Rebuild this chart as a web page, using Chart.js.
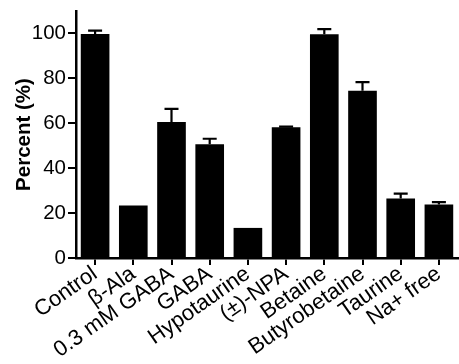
<!DOCTYPE html>
<html>
<head>
<meta charset="utf-8">
<script src="https://cdn.jsdelivr.net/npm/chart.js@4.4.0/dist/chart.umd.min.js"></script>
<style>
  html, body { margin: 0; padding: 0; background: #fff; }
  #wrap { width: 459px; height: 364px; position: relative; }
</style>
</head>
<body>
<div id="wrap"><canvas id="c" width="459" height="364"></canvas></div>
<script>
const categories = ['Control', 'β-Ala', '0.3 mM GABA', 'GABA', 'Hypotaurine', '(±)-NPA', 'Betaine', 'Butyrobetaine', 'Taurine', 'Na+ free'];
const percentValues = [99.8, 23.4, 60.6, 50.7, 13.4, 58.2, 99.6, 74.5, 26.5, 23.8];
const errorUpper = [1.5, 0, 5.8, 2.4, 0, 0.3, 2.3, 3.8, 2.2, 1.1];
const yTickValues = [0, 20, 40, 60, 80, 100];

const errorBarPlugin = {
  id: 'errorBars',
  afterDatasetsDraw(chart) {
    const ctx = chart.ctx;
    const meta = chart.getDatasetMeta(0);
    const y = chart.scales.y;
    ctx.save();
    ctx.strokeStyle = '#000';
    ctx.lineWidth = 2.2;
    meta.data.forEach((bar, i) => {
      const e = errorUpper[i];
      if (!e) return;
      const x = bar.x;
      const yTop = y.getPixelForValue(percentValues[i] + e);
      const yBase = y.getPixelForValue(percentValues[i]);
      ctx.beginPath();
      ctx.moveTo(x, yBase);
      ctx.lineTo(x, yTop);
      ctx.moveTo(x - 7, yTop);
      ctx.lineTo(x + 7, yTop);
      ctx.stroke();
    });
    ctx.restore();
  }
};

new Chart(document.getElementById('c'), {
  type: 'bar',
  data: {
    labels: categories,
    datasets: [{
      data: percentValues,
      backgroundColor: '#000',
      borderWidth: 0,
      barPercentage: 0.75,
      categoryPercentage: 1.0
    }]
  },
  options: {
    responsive: false,
    animation: false,
    devicePixelRatio: 1,
    layout: { padding: { top: 11, right: 1, left: 0, bottom: 0 } },
    plugins: { legend: { display: false }, tooltip: { enabled: false } },
    scales: {
      x: {
        offset: true,
        grid: { display: true, drawOnChartArea: false, offset: false, tickLength: 7, color: '#000', lineWidth: 2 },
        border: { display: true, color: '#000', width: 2.5 },
        ticks: {
          color: '#000',
          autoSkip: false,
          minRotation: 35,
          maxRotation: 35,
          padding: -4,
          font: { family: 'Liberation Sans, Arial, sans-serif', size: 22 }
        },
        afterFit(scale) {
          scale.height = 106;
          scale.paddingLeft = 0;
          scale.paddingRight = 0;
        }
      },
      y: {
        min: 0,
        max: 110,
        afterBuildTicks(scale) {
          scale.ticks = yTickValues.map(v => ({ value: v }));
        },
        grid: { display: true, drawOnChartArea: false, tickLength: 8, color: '#000', lineWidth: 2 },
        border: { display: true, color: '#000', width: 2.5 },
        ticks: {
          color: '#000',
          padding: 2,
          font: { family: 'Liberation Sans, Arial, sans-serif', size: 20.5 }
        },
        title: {
          display: true,
          text: 'Percent (%)',
          color: '#000',
          padding: { top: 12, bottom: 0 },
          font: { family: 'Liberation Sans, Arial, sans-serif', size: 20.5, weight: 'bold' }
        },
        afterFit(scale) {
          scale.width = 76;
          scale.paddingTop = 0;
          scale.paddingBottom = 0;
        }
      }
    }
  },
  plugins: [errorBarPlugin]
});
</script>
</body>
</html>
